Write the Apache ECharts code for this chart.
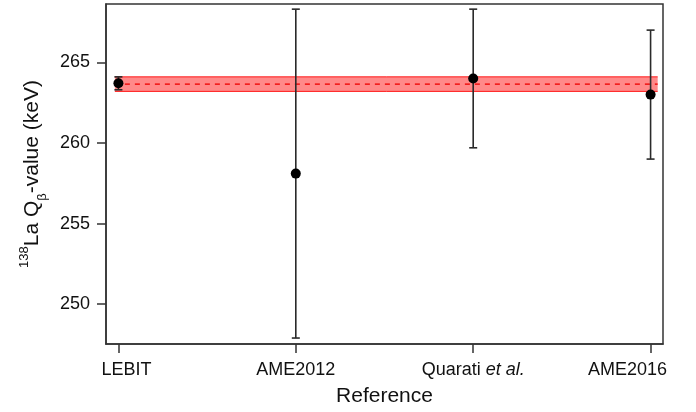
<!DOCTYPE html>
<html>
<head>
<meta charset="utf-8">
<script src="https://cdn.jsdelivr.net/npm/echarts@6/dist/echarts.min.js"></script>
<style>html,body{margin:0;padding:0;background:#fff;}#c{width:696px;height:412px;}</style>
</head>
<body>
<div id="c"></div>
<script>
// ---- data ----
var categories = ['LEBIT', 'AME2012', 'Quarati et al.', 'AME2016'];
var positions = [1, 2, 3, 4];
var values = [263.7, 258.1, 264.0, 263.0];
var errors = [0.4, 10.2, 4.3, 4.0];
var bandLow = 263.2;
var bandHigh = 264.1;
var bandMid = 263.65;
var bandStart = 0.98;
var bandEnd = 4.04;
var yTicks = [250, 255, 260, 265];

// ---- build ----
var pointData = positions.map(function (p, i) { return [p, values[i]]; });
var errData = positions.map(function (p, i) { return [p, values[i] - errors[i], values[i] + errors[i]]; });
var bandData = [[bandStart, bandEnd, bandLow, bandHigh, bandMid]];

var font = '"Liberation Sans", Arial, sans-serif';
var lbl = { fontFamily: font, fontSize: 18, color: '#111' };
var chart = echarts.init(document.getElementById('c'), null, { renderer: 'canvas' });
chart.setOption({
  animation: false,
  backgroundColor: '#fff',
  grid: { left: 106, right: 33, top: 4, bottom: 66, show: true, borderColor: '#333', borderWidth: 1.5, backgroundColor: 'transparent' },
  xAxis: {
    type: 'value', min: 0.93, max: 4.07,
    name: 'Reference', nameLocation: 'middle', nameGap: 42,
    nameTextStyle: { fontFamily: font, fontSize: 21, color: '#111' },
    axisLine: { show: true, lineStyle: { color: '#333', width: 1.5 } },
    axisTick: { show: true, length: 9, customValues: positions, lineStyle: { color: '#333', width: 1.5 } },
    splitLine: { show: false },
    axisLabel: {
      customValues: positions, margin: 17, fontFamily: font, fontSize: 18, color: '#111',
      formatter: function (v) {
        var i = positions.indexOf(Math.round(v));
        var s = categories[i] || '';
        if (s.indexOf(' et al.') > 0) return '{n|' + s.replace(' et al.', '') + ' }{it|et al.}';
        if (i === 0) return '{first|' + s + '}';
        if (i === categories.length - 1) return '{last|' + s + '}';
        return '{n|' + s + '}';
      },
      rich: {
        n: lbl,
        it: { fontStyle: 'italic', fontFamily: font, fontSize: 18, color: '#111' },
        first: { fontFamily: font, fontSize: 18, color: '#111', padding: [0, 0, 0, 16] },
        last: { fontFamily: font, fontSize: 18, color: '#111', padding: [0, 46, 0, 0] }
      }
    }
  },
  yAxis: {
    type: 'value', min: 247.53, max: 268.62,
    name: '{sup|138}{m|La Q}{sub|β}{m|-value (keV)}', nameLocation: 'middle', nameGap: 60, nameRotate: 90,
    nameTextStyle: {
      fontFamily: font, fontSize: 21, color: '#111',
      rich: {
        m: { fontFamily: font, fontSize: 21, color: '#111', verticalAlign: 'bottom', lineHeight: 25 },
        sup: { fontFamily: font, fontSize: 13, color: '#111', verticalAlign: 'top', lineHeight: 25 },
        sub: { fontFamily: font, fontSize: 13, color: '#111', verticalAlign: 'bottom', lineHeight: 14, padding: [0, 0, -6, 0] }
      }
    },
    axisLine: { show: true, lineStyle: { color: '#333', width: 1.5 } },
    axisTick: { show: true, length: 9, customValues: yTicks, lineStyle: { color: '#333', width: 1.5 } },
    axisLabel: { customValues: yTicks, margin: 16, fontFamily: font, fontSize: 18, color: '#111' },
    splitLine: { show: false }
  },
  series: [
    {
      type: 'custom', z: 1, data: bandData,
      renderItem: function (params, api) {
        var x0 = api.value(0), x1 = api.value(1), lo = api.value(2), hi = api.value(3), mid = api.value(4);
        var a = api.coord([x0, hi]), b = api.coord([x1, lo]);
        var m0 = api.coord([x0, mid]), m1 = api.coord([x1, mid]);
        return {
          type: 'group',
          children: [
            { type: 'rect', shape: { x: a[0], y: a[1], width: b[0] - a[0], height: b[1] - a[1] }, style: { fill: 'rgba(255,40,40,0.55)' } },
            { type: 'line', shape: { x1: a[0], y1: a[1], x2: b[0], y2: a[1] }, style: { stroke: '#ff1a1a', lineWidth: 1 } },
            { type: 'line', shape: { x1: a[0], y1: b[1], x2: b[0], y2: b[1] }, style: { stroke: '#ff1a1a', lineWidth: 1 } },
            { type: 'line', shape: { x1: m0[0], y1: m0[1], x2: m1[0], y2: m1[1] }, style: { stroke: '#ee0000', lineWidth: 1.3, lineDash: [5, 5] } }
          ]
        };
      }
    },
    {
      type: 'custom', z: 2, data: errData,
      renderItem: function (params, api) {
        var x = api.value(0), lo = api.value(1), hi = api.value(2);
        var t = api.coord([x, hi]), b = api.coord([x, lo]);
        var hw = 4;
        var st = { stroke: '#2a2a2a', lineWidth: 1.6 };
        return {
          type: 'group',
          children: [
            { type: 'line', shape: { x1: t[0], y1: t[1], x2: b[0], y2: b[1] }, style: st },
            { type: 'line', shape: { x1: t[0] - hw, y1: t[1], x2: t[0] + hw, y2: t[1] }, style: st },
            { type: 'line', shape: { x1: b[0] - hw, y1: b[1], x2: b[0] + hw, y2: b[1] }, style: st }
          ]
        };
      }
    },
    {
      type: 'scatter', z: 3, data: pointData, symbol: 'circle', symbolSize: 10,
      itemStyle: { color: '#000', opacity: 1 }
    }
  ]
});
</script>
</body>
</html>
